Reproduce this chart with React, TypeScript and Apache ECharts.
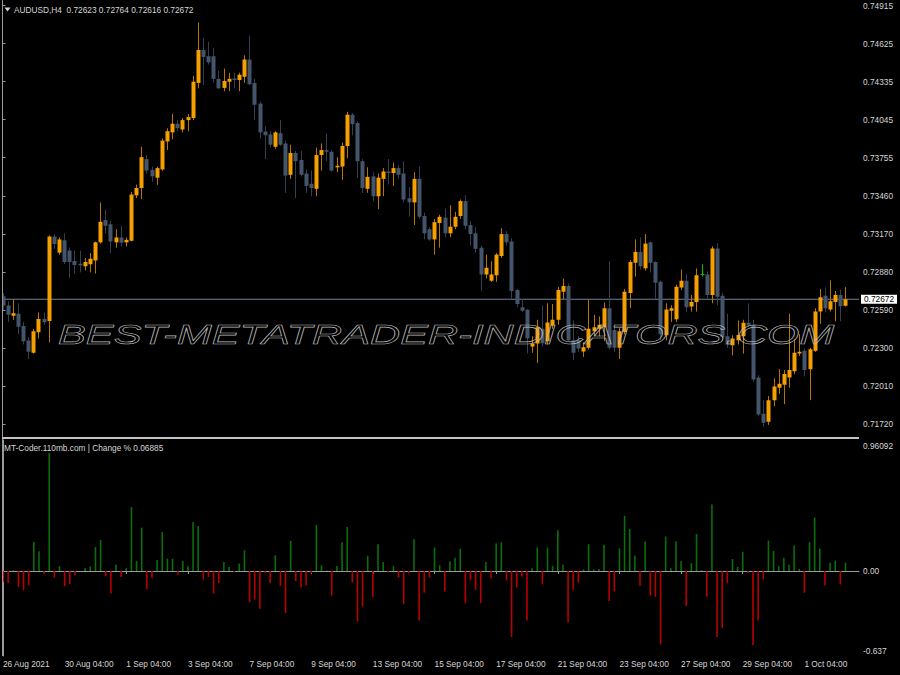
import React, { useEffect, useRef } from "react";
import * as echarts from "echarts";

// ---- data (AUDUSD H4) ----
const open = [
  0.72694, 0.72625, 0.72546, 0.72562, 0.72468, 0.72357, 0.72263, 0.72420, 0.72521, 0.72505,
  0.73151, 0.73028, 0.73123, 0.73044, 0.72965, 0.72943, 0.72924, 0.72940, 0.72969, 0.73107,
  0.73277, 0.73245, 0.73107, 0.73144, 0.73107, 0.73119, 0.73466, 0.73522, 0.73743, 0.73661,
  0.73601, 0.73664, 0.73878, 0.73947, 0.74013, 0.73969, 0.74041, 0.74057, 0.74325, 0.74577,
  0.74529, 0.74529, 0.74356, 0.74287, 0.74334, 0.74359, 0.74347, 0.74372, 0.74504, 0.74325,
  0.74167, 0.73953, 0.73931, 0.73837, 0.73941, 0.73862, 0.73623, 0.73790, 0.73736, 0.73633,
  0.73554, 0.73516, 0.73774, 0.73812, 0.73799, 0.73680, 0.73686, 0.73843, 0.74082, 0.74019,
  0.73727, 0.73516, 0.73611, 0.73459, 0.73592, 0.73648, 0.73636, 0.73674, 0.73633, 0.73444,
  0.73412, 0.73592, 0.73308, 0.73207, 0.73129, 0.73255, 0.73296, 0.73176, 0.73226, 0.73308,
  0.73422, 0.73239, 0.73176, 0.73066, 0.72861, 0.72814, 0.72855, 0.73003, 0.73170, 0.73113,
  0.72742, 0.72610, 0.72591, 0.72311, 0.72333, 0.72446, 0.72352, 0.72471, 0.72515, 0.72729,
  0.72773, 0.72358, 0.72358, 0.72273, 0.72301, 0.72427, 0.72446, 0.72458, 0.72603, 0.72437,
  0.72301, 0.72421, 0.72720, 0.72950, 0.73034, 0.72909, 0.73107, 0.72956, 0.72805, 0.72396,
  0.72585, 0.72519, 0.72761, 0.72814, 0.72616, 0.72651, 0.72861, 0.72861, 0.72704, 0.73060,
  0.72698, 0.72389, 0.72320, 0.72358, 0.72389, 0.72493, 0.72477, 0.72075, 0.71797, 0.71735,
  0.71901, 0.71996, 0.72018, 0.72075, 0.72122, 0.72257, 0.72279, 0.72138, 0.72279, 0.72578,
  0.72698, 0.72594, 0.72651, 0.72704, 0.72623,
];
const high = [
  0.72720, 0.72657, 0.72672, 0.72641, 0.72499, 0.72383, 0.72446, 0.72572, 0.72572, 0.73160,
  0.73170, 0.73144, 0.73176, 0.73066, 0.73044, 0.73044, 0.72987, 0.73025, 0.73113, 0.73412,
  0.73358, 0.73270, 0.73207, 0.73233, 0.73144, 0.73491, 0.73547, 0.73837, 0.73774, 0.73686,
  0.73686, 0.73900, 0.73979, 0.74089, 0.74041, 0.74057, 0.74089, 0.74378, 0.74787, 0.74671,
  0.74639, 0.74592, 0.74419, 0.74435, 0.74403, 0.74403, 0.74403, 0.74536, 0.74687, 0.74356,
  0.74183, 0.73994, 0.73956, 0.73956, 0.74041, 0.73884, 0.73853, 0.73805, 0.73805, 0.73664,
  0.73655, 0.73831, 0.73862, 0.73938, 0.73812, 0.73758, 0.73869, 0.74104, 0.74095, 0.74032,
  0.73743, 0.73680, 0.73642, 0.73633, 0.73674, 0.73743, 0.73717, 0.73695, 0.73727, 0.73529,
  0.73642, 0.73686, 0.73333, 0.73223, 0.73286, 0.73318, 0.73365, 0.73390, 0.73340, 0.73434,
  0.73466, 0.73270, 0.73223, 0.73082, 0.73013, 0.72962, 0.73025, 0.73214, 0.73192, 0.73138,
  0.72751, 0.72672, 0.72597, 0.72389, 0.72515, 0.72625, 0.72641, 0.72635, 0.72767, 0.72830,
  0.72792, 0.72509, 0.72389, 0.72342, 0.72672, 0.72553, 0.72541, 0.72647, 0.72962, 0.72459,
  0.72452, 0.72751, 0.72971, 0.73129, 0.73145, 0.73170, 0.73113, 0.72962, 0.72814, 0.72641,
  0.72625, 0.72783, 0.72899, 0.72868, 0.72704, 0.72908, 0.72940, 0.72886, 0.73076, 0.73101,
  0.72723, 0.72562, 0.72396, 0.72509, 0.72515, 0.72641, 0.72515, 0.72091, 0.71901, 0.71933,
  0.72068, 0.72138, 0.72132, 0.72562, 0.72364, 0.72405, 0.72295, 0.72301, 0.72603, 0.72751,
  0.72761, 0.72817, 0.72735, 0.72745, 0.72764,
];
const low = [
  0.72594, 0.72499, 0.72515, 0.72405, 0.72326, 0.72216, 0.72257, 0.72373, 0.72477, 0.72342,
  0.73057, 0.73012, 0.72940, 0.72836, 0.72868, 0.72877, 0.72893, 0.72877, 0.72868, 0.73097,
  0.73176, 0.73025, 0.73066, 0.73075, 0.73075, 0.73113, 0.73444, 0.73437, 0.73632, 0.73570,
  0.73547, 0.73655, 0.73812, 0.73894, 0.73956, 0.73947, 0.73956, 0.74041, 0.74284, 0.74309,
  0.74466, 0.74325, 0.74278, 0.74262, 0.74262, 0.74284, 0.74262, 0.74325, 0.74309, 0.74041,
  0.73900, 0.73743, 0.73831, 0.73821, 0.73843, 0.73485, 0.73592, 0.73444, 0.73610, 0.73485,
  0.73459, 0.73459, 0.73655, 0.73727, 0.73648, 0.73642, 0.73585, 0.73749, 0.73925, 0.73601,
  0.73485, 0.73485, 0.73422, 0.73359, 0.73459, 0.73548, 0.73538, 0.73592, 0.73412, 0.73302,
  0.73239, 0.73286, 0.73129, 0.73119, 0.73013, 0.73066, 0.73145, 0.73145, 0.73207, 0.73286,
  0.73207, 0.73082, 0.73025, 0.72735, 0.72830, 0.72805, 0.72805, 0.72987, 0.73082, 0.72672,
  0.72610, 0.72573, 0.72257, 0.72263, 0.72185, 0.72311, 0.72326, 0.72446, 0.72477, 0.72672,
  0.72352, 0.72207, 0.72270, 0.72232, 0.72289, 0.72389, 0.72389, 0.72352, 0.72289, 0.72270,
  0.72216, 0.72405, 0.72603, 0.72845, 0.72900, 0.72893, 0.72877, 0.72672, 0.72358, 0.72358,
  0.72499, 0.72499, 0.72742, 0.72578, 0.72578, 0.72578, 0.72845, 0.72679, 0.72641, 0.72625,
  0.72358, 0.72301, 0.72242, 0.72326, 0.72257, 0.72462, 0.72043, 0.71776, 0.71697, 0.71712,
  0.71854, 0.71949, 0.71870, 0.71996, 0.72100, 0.72238, 0.72081, 0.71901, 0.72270, 0.72484,
  0.72572, 0.72578, 0.72503, 0.72503, 0.72616,
];
const close = [
  0.72625, 0.72553, 0.72565, 0.72461, 0.72351, 0.72270, 0.72427, 0.72521, 0.72496, 0.73151,
  0.73094, 0.73129, 0.72956, 0.72956, 0.72934, 0.72931, 0.72956, 0.72981, 0.73107, 0.73264,
  0.73233, 0.73113, 0.73144, 0.73104, 0.73126, 0.73472, 0.73522, 0.73758, 0.73655, 0.73611,
  0.73674, 0.73884, 0.73956, 0.74013, 0.73979, 0.74041, 0.74064, 0.74334, 0.74577, 0.74523,
  0.74482, 0.74356, 0.74284, 0.74340, 0.74356, 0.74347, 0.74388, 0.74504, 0.74315, 0.74158,
  0.73947, 0.73925, 0.73853, 0.73947, 0.73853, 0.73617, 0.73790, 0.73727, 0.73623, 0.73538,
  0.73522, 0.73774, 0.73812, 0.73799, 0.73655, 0.73692, 0.73843, 0.74082, 0.74010, 0.73727,
  0.73522, 0.73607, 0.73459, 0.73601, 0.73648, 0.73636, 0.73674, 0.73623, 0.73434, 0.73412,
  0.73592, 0.73302, 0.73176, 0.73129, 0.73261, 0.73302, 0.73176, 0.73226, 0.73302, 0.73422,
  0.73233, 0.73170, 0.73057, 0.72861, 0.72912, 0.72861, 0.73013, 0.73170, 0.73107, 0.72735,
  0.72635, 0.72585, 0.72373, 0.72333, 0.72458, 0.72336, 0.72494, 0.72515, 0.72742, 0.72773,
  0.72358, 0.72263, 0.72295, 0.72305, 0.72446, 0.72458, 0.72477, 0.72603, 0.72301, 0.72301,
  0.72427, 0.72729, 0.72956, 0.73034, 0.72925, 0.73097, 0.72950, 0.72798, 0.72405, 0.72594,
  0.72603, 0.72767, 0.72814, 0.72610, 0.72651, 0.72855, 0.72861, 0.72704, 0.73060, 0.72692,
  0.72383, 0.72326, 0.72373, 0.72399, 0.72493, 0.72471, 0.72059, 0.71791, 0.71728, 0.71901,
  0.72006, 0.72027, 0.72100, 0.72132, 0.72263, 0.72270, 0.72132, 0.72289, 0.72578, 0.72688,
  0.72603, 0.72657, 0.72704, 0.72619, 0.72672,
];
// Change % indicator (MT-Coder)
const change = [
  -0.090, -0.098, 0.005, -0.130, -0.157, -0.117, 0.236, 0.160, -0.022, 0.96092,
  -0.054, 0.038, -0.125, -0.108, -0.035, 0.000, 0.024, 0.038, 0.195, 0.252,
  -0.043, -0.184, 0.052, -0.049, 0.024, 0.521, 0.081, 0.353, -0.149, -0.054,
  0.090, 0.317, 0.100, 0.100, -0.030, 0.081, 0.038, 0.399, 0.366, -0.070,
  -0.049, -0.184, -0.098, 0.073, 0.033, -0.008, 0.060, 0.168, -0.252, -0.233,
  -0.307, -0.016, -0.098, 0.128, -0.122, -0.342, 0.244, -0.081, -0.134, -0.117,
  -0.020, 0.375, 0.047, 0.005, -0.200, 0.040, 0.234, 0.358, -0.094, -0.412,
  -0.288, 0.124, -0.211, 0.218, 0.074, -0.010, 0.040, -0.054, -0.268, -0.020,
  0.258, -0.402, -0.177, -0.054, 0.191, 0.047, -0.167, 0.080, 0.107, 0.181,
  -0.261, -0.077, -0.154, -0.261, 0.074, -0.060, 0.224, 0.234, -0.077, -0.536,
  -0.134, -0.044, -0.402, 0.023, 0.191, -0.110, 0.191, 0.040, 0.331, 0.050,
  -0.418, -0.154, -0.094, 0.013, 0.218, 0.013, 0.017, 0.214, -0.244, -0.167,
  0.184, 0.449, 0.341, 0.124, -0.120, 0.241, -0.200, -0.211, -0.596, 0.281,
  0.023, 0.241, 0.080, -0.285, 0.064, 0.301, 0.007, -0.211, 0.542, -0.536,
  -0.462, -0.100, 0.097, 0.033, 0.157, -0.017, -0.603, -0.402, -0.067, 0.248,
  0.164, 0.040, 0.107, 0.050, 0.208, 0.017, -0.177, 0.234, 0.435, 0.184,
  -0.117, 0.067, 0.084, -0.110, 0.06885,
];
const timeLabels = [
  "26 Aug 2021", "30 Aug 04:00", "1 Sep 04:00", "3 Sep 04:00", "7 Sep 04:00",
  "9 Sep 04:00", "13 Sep 04:00", "15 Sep 04:00", "17 Sep 04:00", "21 Sep 04:00",
  "23 Sep 04:00", "27 Sep 04:00", "29 Sep 04:00", "1 Oct 04:00",
];
const timeLabelBars = [0, 12, 24, 36, 48, 60, 72, 84, 96, 108, 120, 132, 144, 156];
const priceTicks = [
  0.74915, 0.74625, 0.74335, 0.74045, 0.73755, 0.7346, 0.7317, 0.7288, 0.7259, 0.723, 0.7201, 0.7172,
];
const changeTickTexts = ["0.96092", "0.00", "-0.637"];
const changeTickPos = [1.017, 0, -0.651];

const FONT = '"Liberation Sans", Arial, sans-serif';
const FS = 8.3;
const TXT = "#d6d6d6";
const AXIS = "#9a9a9a";
const BULL = "#f5a000";
const BULL_WICK = "#b57600";
const BEAR = "#44546a";
const BEAR_WICK = "#334052";
const DOJI = "#00c000";
const X_MIN = -0.1;
const X_MAX = 166.63;

export default function App() {
  const ref = useRef<HTMLDivElement>(null);
  useEffect(() => {
    const chart = echarts.init(ref.current!, null, { renderer: "svg" });
    const n = close.length;
    const last = n - 1;
    const candles = close.map((c, i) => [i, open[i], c, low[i], high[i]]);
    const hist = change.map((v, i) => [i, v]);
    const fmtP = (v: number) => v.toFixed(5);

    const option: any = {
      animation: false,
      backgroundColor: "#000000",
      grid: [
        { left: 2, right: 41, top: 0, height: 437.5 },
        { left: 2, right: 41, top: 440, height: 216 },
      ],
      xAxis: [
        {
          gridIndex: 0, type: "value", min: X_MIN, max: X_MAX,
          axisLine: { show: false }, axisTick: { show: false }, axisLabel: { show: false }, splitLine: { show: false },
        },
        {
          gridIndex: 1, type: "value", min: X_MIN, max: X_MAX,
          axisLine: { show: true, lineStyle: { color: AXIS, width: 1 } },
          axisTick: { show: true, customValues: timeLabelBars, length: 3, lineStyle: { color: AXIS } },
          axisLabel: {
            show: true, customValues: timeLabelBars, align: "left", margin: 4,
            color: TXT, fontFamily: FONT, fontSize: FS,
            formatter: (v: number) => timeLabels[timeLabelBars.indexOf(Math.round(v))] ?? "",
          },
          splitLine: { show: false },
        },
      ],
      yAxis: [
        {
          gridIndex: 0, type: "value", position: "right", min: 0.716156, max: 0.749586,
          axisLine: { show: true, lineStyle: { color: AXIS, width: 1 } },
          axisTick: { show: true, customValues: priceTicks, length: 3, lineStyle: { color: AXIS } },
          axisLabel: {
            show: true, customValues: priceTicks, margin: 4,
            color: TXT, fontFamily: FONT, fontSize: FS, formatter: fmtP,
          },
          splitLine: { show: false },
        },
        {
          gridIndex: 1, type: "value", position: "right", min: -0.6916, max: 1.0659,
          axisLine: { show: true, lineStyle: { color: AXIS, width: 1 } },
          axisTick: { show: true, customValues: [0], length: 3, lineStyle: { color: AXIS } },
          axisLabel: {
            show: true, customValues: changeTickPos, margin: 4,
            color: TXT, fontFamily: FONT, fontSize: FS,
            formatter: (v: number) => {
              let best = 0;
              changeTickPos.forEach((p, k) => { if (Math.abs(p - v) < Math.abs(changeTickPos[best] - v)) best = k; });
              return changeTickTexts[best];
            },
          },
          splitLine: { show: false },
        },
      ],
      series: [
        {
          type: "line",
          name: "Bid",
          xAxisIndex: 0, yAxisIndex: 0,
          silent: true,
          symbol: "none",
          data: [[X_MIN, close[last]], [X_MAX, close[last]]],
          lineStyle: { color: "#6f8197", width: 1 },
          endLabel: {
            show: true, distance: 2,
            formatter: () => fmtP(close[last]),
            backgroundColor: "#ffffff", color: "#000000",
            padding: [1, 3, 0, 3], fontFamily: FONT, fontSize: FS,
          },
          z: 1,
        },
        {
          type: "custom",
          name: "AUDUSD,H4",
          xAxisIndex: 0, yAxisIndex: 0,
          clip: true,
          dimensions: ["idx", "open", "close", "low", "high"],
          encode: { x: 0, y: [1, 2, 3, 4] },
          data: candles,
          renderItem: (params: any, api: any) => {
            const i = api.value(0);
            const o = api.value(1), c = api.value(2), l = api.value(3), h = api.value(4);
            const pO = api.coord([i, o]);
            const pC = api.coord([i, c]);
            const pL = api.coord([i, l]);
            const pH = api.coord([i, h]);
            const x = Math.round(pO[0]) + 0.5;
            const doji = o === c;
            const up = c > o;
            const wick = doji ? DOJI : up ? BULL_WICK : BEAR_WICK;
            const body = up ? BULL : BEAR;
            const top = Math.min(pO[1], pC[1]);
            const hgt = Math.max(Math.abs(pO[1] - pC[1]), 1);
            const children: any[] = [
              { type: "line", shape: { x1: x, y1: pH[1], x2: x, y2: pL[1] }, style: { stroke: wick, lineWidth: 1 } },
            ];
            if (doji) {
              children.push({ type: "line", shape: { x1: x - 2, y1: top, x2: x + 2, y2: top }, style: { stroke: DOJI, lineWidth: 1 } });
            } else {
              children.push({ type: "rect", shape: { x: x - 2, y: top, width: 4, height: hgt }, style: { fill: body } });
            }
            return { type: "group", children };
          },
          z: 3,
        },
        {
          type: "bar",
          name: "Change %",
          xAxisIndex: 1, yAxisIndex: 1,
          barWidth: 1.6,
          data: hist,
          itemStyle: {
            color: (p: any) => (p.value[1] >= 0 ? "#0a6e0a" : "#b80000"),
          },
        },
      ],
      graphic: [
        { type: "line", shape: { x1: 2.5, y1: 0, x2: 2.5, y2: 656 }, style: { stroke: AXIS, lineWidth: 1 }, z: 5 },
        { type: "line", shape: { x1: 2, y1: 438, x2: 859, y2: 438 }, style: { stroke: "#c4c4c4", lineWidth: 2 }, z: 5 },
        { type: "polygon", shape: { points: [[4.5, 7.5], [10.5, 7.5], [7.5, 11.5]] }, style: { fill: TXT }, z: 6 },
        {
          type: "text", x: 14, y: 10, z: 6,
          style: {
            text: `AUDUSD,H4  ${fmtP(open[last])} ${fmtP(high[last])} ${fmtP(low[last])} ${fmtP(close[last])}`,
            fill: TXT, font: `${FS}px ${FONT}`, verticalAlign: "middle", align: "left",
          },
        },
        {
          type: "text", x: 4, y: 448, z: 6,
          style: {
            text: `MT-Coder.110mb.com | Change % ${change[last].toFixed(5)}`,
            fill: TXT, font: `${FS}px ${FONT}`, verticalAlign: "middle", align: "left",
          },
        },
        {
          type: "text", x: 58, y: 335, scaleX: 1.49, z: 10,
          style: {
            text: "BEST-METATRADER-INDICATORS.COM",
            fill: "transparent", stroke: "#b8b8b8", lineWidth: 0.6,
            font: `italic 28px "Liberation Sans", Arial, sans-serif`,
            verticalAlign: "middle", align: "left",
          },
        },
      ],
    };
    chart.setOption(option);
    return () => chart.dispose();
  }, []);
  return (
    <div
      ref={ref}
      style={{ position: "absolute", left: 0, top: 0, width: 900, height: 675, background: "#000" }}
    />
  );
}
